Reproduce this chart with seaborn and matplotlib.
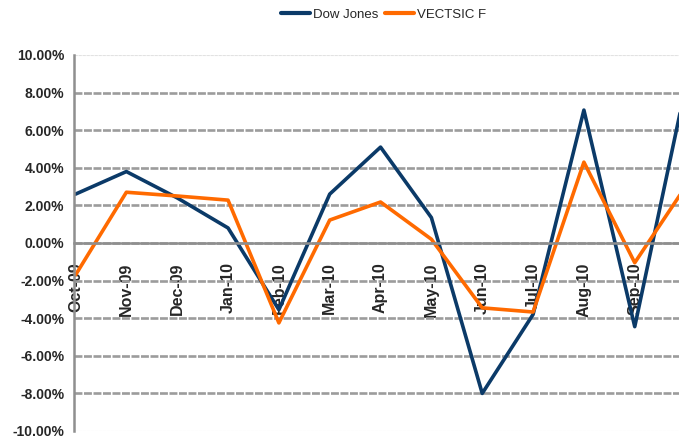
import pandas as pd
import matplotlib
matplotlib.use('Agg')
import matplotlib.pyplot as plt
import seaborn as sns

# Monthly returns (%)
months = ['Oct-09', 'Nov-09', 'Dec-09', 'Jan-10', 'Feb-10', 'Mar-10', 'Apr-10',
          'May-10', 'Jun-10', 'Jul-10', 'Aug-10', 'Sep-10', 'Oct-10']
dow_jones = [2.6, 3.8, 2.4, 0.8, -3.55, 2.6, 5.1, 1.35, -8.0, -3.8, 7.07, -4.45, 8.3]
vectsic_f = [-1.7, 2.7, 2.5, 2.28, -4.25, 1.22, 2.18, 0.2, -3.45, -3.67, 4.3, -1.05, 3.0]

series_names = ['Dow Jones', 'VECTSIC F']
colors = ['#0B3A68', '#FF6A00']

df = pd.DataFrame({
    'idx': list(range(len(months))) * 2,
    'value': dow_jones + vectsic_f,
    'series': [series_names[0]] * len(months) + [series_names[1]] * len(months),
})

sns.set_style('white')
plt.rcParams['font.family'] = ['Liberation Sans', 'DejaVu Sans']

fig = plt.figure(figsize=(6.79, 4.41), dpi=100)
# axes run past the right edge of the figure, as in the original (clipped) chart
ax = fig.add_axes([74 / 679, 10 / 441, 637 / 679, 376 / 441])

# spines first (moving the spine resets tick label styling)
for s in ['top', 'right']:
    ax.spines[s].set_visible(False)
ax.spines['bottom'].set_position(('data', 0))
ax.spines['bottom'].set_color('#8f8f8f')
ax.spines['bottom'].set_linewidth(1.8)
ax.spines['left'].set_color('#8f8f8f')
ax.spines['left'].set_linewidth(1.8)

sns.lineplot(data=df, x='idx', y='value', hue='series', palette=colors,
             linewidth=2.6, ax=ax, legend=False)

ax.set_xlim(-0.03, 12.5)
ax.set_ylim(-10, 10)
ax.set_yticks(range(-10, 11, 2))
ax.set_yticklabels(['{:.2f}%'.format(v) for v in range(-10, 11, 2)],
                   fontsize=10, fontweight='bold')
ax.set_xticks(range(len(months)))
ax.set_xticklabels(months, fontsize=11.5, fontweight='bold')
plt.setp(ax.get_xticklabels(), rotation=90, ha='center', va='top')
# last month sits past the cropped right edge, its label is not visible
ax.get_xticklabels()[-1].set_visible(False)
ax.set_xlabel('')
ax.set_ylabel('')

# grid
ax.yaxis.grid(True, color='#9c9c9c', linewidth=1.9, linestyle=(0, (3, 0.6)))
gls = ax.get_ygridlines()
for g in (gls[0], gls[-1]):
    g.set_color('#e2e2e2')
    g.set_linewidth(0.8)
ax.set_axisbelow(True)

ax.tick_params(axis='y', direction='out', length=4, width=1.5, color='#8f8f8f', pad=3)
ax.tick_params(axis='x', direction='out', length=4, width=1.5, color='#8f8f8f', pad=10)

# legend
handles = [plt.Line2D([], [], color=c, linewidth=3) for c in colors]
fig.legend(handles, series_names, loc='center', bbox_to_anchor=(0.565, 0.966),
           ncol=2, frameon=False, fontsize=9.5, handlelength=2.2,
           handletextpad=0.2, columnspacing=0.5)

fig.savefig('out.png', dpi=100)
